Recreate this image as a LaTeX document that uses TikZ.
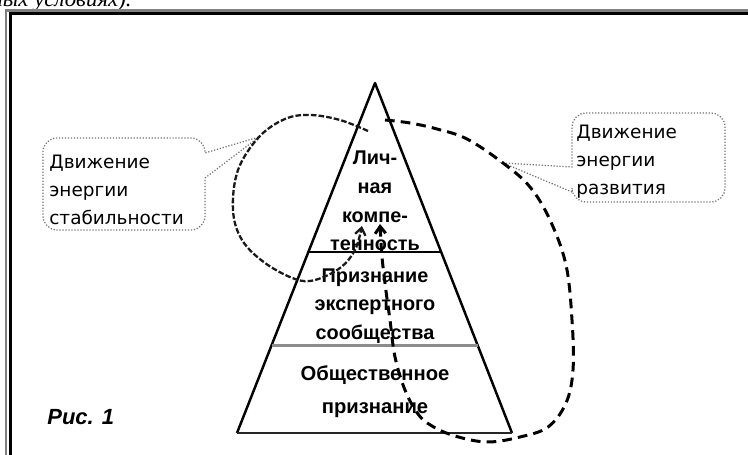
\documentclass[tikz,border=0pt]{standalone}
\usepackage{fontspec}
\setmainfont{Liberation Serif}
\newfontfamily\notefont{DejaVu Sans}
\newfontfamily\levelfont{Liberation Sans}
\usepackage{tikz}
\usetikzlibrary{arrows.meta, calc}
\usepackage{xcolor}

\begin{document}
\begin{tikzpicture}[
    x=0.02cm, y=-0.02cm,
    every node/.style={inner sep=0pt},
    level/.style={font=\levelfont\bfseries\fontsize{11.3}{16.4}\selectfont, align=center},
    note/.style={font=\notefont\fontsize{10.5}{15.9}\selectfont, align=left, anchor=west},
    callout/.style={draw=black!55, densely dotted, line width=0.7pt},
    side/.style={draw=black, line width=1.4pt, line join=round},
    tier/.style={draw=black, line width=1.1pt},
    stab/.style={draw=black!90, dash pattern=on 3.2pt off 1.2pt, line width=1.3pt},
    devel/.style={draw=black, dash pattern=on 5.5pt off 3.5pt, line width=1.7pt},
    tip/.style={-{Straight Barb[length=4pt, width=6pt]}}
  ]

  \useasboundingbox (0,0) rectangle (748,455);

  \begin{scope}
    \clip (0,0) rectangle (748,455);
    \node[anchor=base east, font=\itshape\fontsize{13}{15}\selectfont] (cut) at (132,7) {ных условиях).};
    \draw[black!50, line width=1.2pt] (6,470) |- (760,10.5);
    \draw[black, line width=1.7pt] (10.5,470) |- (760,14);
  \end{scope}

  \coordinate (apex) at (375,83);
  \coordinate (bl) at (237,433);
  \coordinate (br) at (512,433);
  \draw[side] (bl) -- (apex) -- (br);
  \draw[tier, draw=black!85] (bl) -- (br);
  \draw[tier] ($(apex)!0.483!(bl)$) -- ($(apex)!0.483!(br)$);
  \draw[tier, draw=black!45, line width=1.7pt] ($(apex)!0.749!(bl)$) -- ($(apex)!0.749!(br)$);

  \node[level] (own) at (375,201) {Лич-\\ная\\компе-\\тенность};
  \node[level, font=\levelfont\bfseries\fontsize{11.3}{16.2}\selectfont] (expert) at (375,306) {Признание\\экспертного\\сообщества};
  \node[level, font=\levelfont\bfseries\fontsize{11.5}{18.7}\selectfont] (public) at (375,392) {Общественное\\признание};

  \node[note] (lnote) at (49,190) {Движение\\энергии\\стабильности};
  \node[note] (rnote) at (576,162) {Движение\\энергии\\развития};

  \coordinate (ltip) at (259,137);
  \draw[callout] (205,178) -- (ltip) -- (205,153) [rounded corners=8pt] -- (205,138) -- (43,138)
    -- (43,230) -- (205,230) -- (205,178);

  \coordinate (rtip) at (503,163);
  \draw[callout] (572,192) -- (rtip) -- (572,167) [rounded corners=8pt] -- (572,113) -- (725,113)
    -- (725,202) -- (572,202) -- (572,192);

  \coordinate (ls) at (368,131);
  \coordinate (le) at (362,226);
  \draw[stab, tip] plot[smooth, tension=0.6] coordinates {(ls) (340,120) (310,115) (285,119) (ltip)
    (238,170) (233,210) (242,240) (265,263) (295,279) (315,280) (340,268) (355,250) (le)};

  \coordinate (rs) at (385,120);
  \coordinate (re) at (380,224);
  \draw[devel, tip] plot[smooth, tension=0.6] coordinates {(rs) (410,123) (437,129) (467,139) (rtip)
    (530,187) (550,220) (566,265) (572,320) (573,370) (566,403) (548,427) (520,437) (487,442)
    (455,436) (432,426) (418,414) (405,390) (395,357) (390,320) (386,291) (382,257) (re)};

  \node[anchor=base west, font=\levelfont\bfseries\itshape\fontsize{12.5}{14}\selectfont] (fig) at (47,425) {Рис. 1};

\end{tikzpicture}
\end{document}
